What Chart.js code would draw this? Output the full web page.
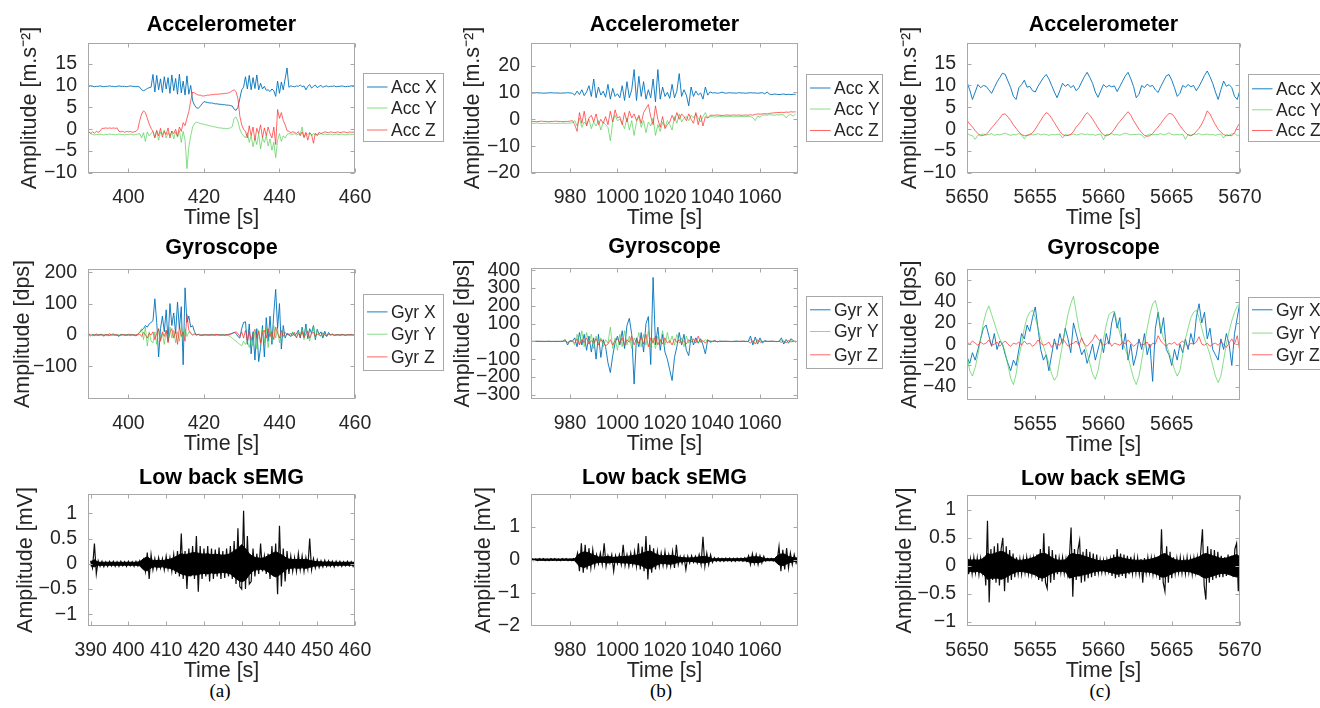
<!DOCTYPE html>
<html>
<head>
<meta charset="utf-8">
<script src="https://cdn.jsdelivr.net/npm/chart.js@4.4.1/dist/chart.umd.min.js"></script>
<style>
  html, body { margin: 0; padding: 0; background: #fff; }
  body { position: relative; width: 1320px; height: 708px; overflow: hidden; }
  .sub { position: absolute; transform: translate(-50%, -50%); font: 19px "Liberation Serif", "DejaVu Serif", serif; color: #000; }
</style>
</head>
<body>
<div class="sub" style="left:220px;top:691px">(a)</div>
<div class="sub" style="left:661px;top:691px">(b)</div>
<div class="sub" style="left:1100px;top:691px">(c)</div>
<script>
// ---- time bases (start, step) ----
const A_T0 = 389.5, A_DT = 0.5;
const B_T0 = 964, B_DT = 1;
const C_T0 = 5650, C_DT = 0.2;
const EA_T0 = 390, EA_DT = 0.5;
const EB_T0 = 964, EB_DT = 0.8;
const EC_T0 = 5650, EC_DT = 0.125;
// sEMG dense core (envelope) time bases
const KA_T0 = 390, KA_DT = 1;
const KB_T0 = 964, KB_DT = 2;
const KC_T0 = 5650, KC_DT = 0.25;

// ---- (a) accelerometer ----
const accA_x = [9.8,9.9,9.8,9.7,9.8,9.8,9.9,9.8,9.7,9.8,9.8,9.9,9.8,9.8,9.7,9.8,9.9,9.8,9.8,9.8,9.7,9.8,9.9,9.8,9.8,9.7,9.8,
  9.6,9.0,8.8,9.0,9.3,9.5,9.6,
  12.5,8.5,12.3,9.0,11.5,8.4,12.0,9.2,11.8,8.2,12.4,8.8,11.6,8.0,12.6,8.3,11.0,7.8,12.2,8.0,10.0,6.5,
  5.5,4.9,4.8,5.2,5.8,
  6.3,6.2,6.1,6.0,6.0,5.9,5.8,5.8,5.7,5.7,5.6,5.6,5.5,5.5,5.4,5.3,
  4.6,4.3,5.0,7.0,9.0,9.6,
  12.0,9.2,12.3,9.0,11.8,9.3,12.4,9.0,10.5,9.2,9.8,8.9,9.0,8.6,9.2,8.8,7.5,11.0,8.2,10.8,9.0,11.5,
  14.0,
  9.6,9.9,9.8,9.7,9.9,9.8,10.1,9.7,9.9,9.0,9.8,10.2,9.4,9.8,10.1,9.5,9.8,10.0,9.6,9.8,
  9.9,9.7,9.8,9.8,9.9,9.7,9.8,9.8,9.9,9.8,9.7,9.8,9.8,9.9,9.8,9.8];
const accA_y = [-0.5,-1.0,-1.2,-1.3,-1.2,-1.2,-1.1,-1.2,-1.3,-1.2,-1.2,-1.1,-1.2,-1.2,-1.3,-1.2,-1.1,-1.2,-1.2,-1.3,-1.2,-1.2,-1.1,-1.2,-1.3,-1.2,-1.1,
  -1.0,-2.0,-0.8,-2.8,-0.6,-1.5,-0.9,
  -0.5,-1.8,-0.3,-2.5,-0.6,-1.2,-0.2,-2.0,-0.8,-1.5,-0.4,-2.2,-0.6,-1.8,-0.3,-3.0,-0.5,-2.5,-9.0,-4.0,-1.5,0.5,
  1.3,1.6,1.5,1.3,1.2,
  1.1,1.0,0.9,0.8,0.7,0.6,0.5,0.4,0.3,0.3,0.2,0.2,0.1,0.2,0.3,0.6,
  2.5,2.8,1.8,0.0,-1.0,-1.5,
  -2.0,-0.8,-3.0,-1.5,-4.0,-2.0,-3.5,-1.0,-4.5,-2.0,-3.0,-1.5,-3.8,-2.2,-4.8,-3.0,-6.5,-2.5,-1.0,-2.8,-1.5,-2.0,
  -1.2,
  -1.0,-1.1,-1.2,-1.0,-1.3,-1.1,-1.2,0.5,-2.0,-1.0,-1.2,-0.8,-1.5,-1.0,-1.3,-1.1,-1.2,-1.0,-1.2,-1.1,
  -1.2,-1.2,-1.1,-1.3,-1.2,-1.1,-1.2,-1.2,-1.1,-1.2,-1.3,-1.2,-1.1,-1.2,-1.2,-1.1];
const accA_z = [-0.5,-1.0,-0.6,-0.9,-0.5,-0.7,-0.4,0.2,0.2,0.3,0.2,0.3,0.2,0.3,0.2,0.3,-0.5,-0.6,-0.5,-0.7,-0.5,-0.6,-0.5,-0.7,-0.6,-0.5,0.0,
  2.0,3.5,4.2,3.8,2.5,1.2,0.2,
  -0.5,-2.0,-0.3,-1.5,0.2,-1.8,-0.5,-1.2,0.3,-2.0,-0.4,-1.0,0.0,-1.6,0.5,-0.5,1.5,0.8,2.5,4.0,6.5,8.5,
  8.3,8.0,7.8,7.8,7.6,
  7.6,7.7,7.8,7.8,7.9,7.9,8.0,8.0,8.0,8.1,8.1,8.2,8.2,8.3,8.5,8.8,
  9.0,8.6,7.0,3.0,1.0,0.0,
  -0.5,-2.0,0.8,-1.5,0.5,-2.5,0.2,-1.0,1.0,-2.0,0.3,-1.5,0.5,-1.0,-2.0,0.5,-3.5,4.5,2.5,3.8,2.0,1.0,
  -0.3,
  -0.5,-0.8,-0.6,-0.7,-1.0,-0.5,-1.5,-0.6,-1.8,-0.7,-2.5,-0.8,-1.2,-3.2,-0.9,-1.5,-0.7,-1.0,-0.8,-0.6,
  -0.7,-0.8,-0.6,-0.7,-0.8,-0.7,-0.6,-0.8,-0.7,-0.6,-0.7,-0.8,-0.6,-0.7,-0.7,-0.6];

// ---- (a) gyroscope ----
const gyrA_x = [2,-3,1,-2,3,-1,0,2,-4,1,0,-2,1,3,-1,0,-5,2,1,-1,0,2,-2,1,0,-3,2,
  8,15,20,30,25,35,40,
  45,115,40,-70,20,60,10,80,-20,100,30,70,5,105,20,90,-95,150,40,60,25,30,
  10,0,2,-1,0,
  0,1,-1,0,2,0,-1,1,0,0,1,-1,0,2,3,5,
  8,5,-5,-10,20,40,
  42,-30,35,-60,10,-80,20,-85,-40,30,-70,55,-20,60,-30,70,145,20,100,-45,30,-10,
  5,
  0,-5,8,-2,3,15,-10,25,-8,35,-12,20,5,30,-15,18,2,10,-10,12,
  -5,8,0,3,-2,1,0,-1,2,0,-1,1,0,2,-1,0];
const gyrA_y = [5,-3,2,0,-2,1,0,-1,2,0,-3,1,0,2,-1,0,1,-2,0,1,0,-1,2,0,1,-2,3,
  10,20,-15,25,-35,10,-20,
  -25,10,-30,20,-15,5,-30,15,-20,25,-10,15,-25,10,-20,30,-15,20,-5,10,5,0,
  5,0,2,0,-1,
  0,1,0,-1,0,1,0,0,-1,0,1,0,0,-2,-5,-10,
  -15,-20,-25,-30,-35,-20,
  -30,-20,-40,-15,-35,10,-45,15,-30,20,-25,25,-40,15,-20,30,-10,20,-25,5,10,-5,
  0,
  5,-5,10,0,-8,12,-3,20,-15,25,5,-20,10,30,-10,15,0,-5,8,0,
  -3,2,0,1,-1,0,2,0,-1,1,0,0,-1,1,0,5];
const gyrA_z = [3,0,-2,1,0,-1,2,0,-2,1,0,4,0,-1,1,0,-2,0,1,0,-1,0,2,0,-1,1,0,
  3,-5,8,0,-10,5,0,
  10,-15,5,20,-20,10,-5,15,-25,8,20,-10,15,-30,25,-5,10,-20,65,15,5,0,
  2,0,1,0,-1,
  0,0,1,0,-1,0,2,1,0,0,-1,0,1,0,2,5,
  8,10,5,-5,10,-10,
  15,-20,10,-15,5,18,-10,12,-25,8,15,-10,20,-5,10,-15,25,5,-10,15,-5,8,
  2,
  0,5,-3,8,-10,5,-5,10,-8,3,12,-10,5,8,-5,3,0,-2,5,0,
  -3,2,0,1,0,-1,1,0,0,1,-1,0,1,0,0,2];

// ---- (b) accelerometer ----
const accB_x = [9.8,9.8,9.9,9.8,9.8,9.7,9.8,9.8,9.9,9.8,9.8,9.8,9.7,9.8,9.8,9.9,9.8,9.7,
  9.0,10.5,9.2,11.0,8.8,10.2,12.5,8.5,15.0,8.0,12.0,9.0,10.5,8.2,13.0,7.5,11.5,8.5,9.5,8.0,
  12.5,7.0,14.0,8.0,11.0,18.5,7.0,16.0,8.5,14.0,7.5,11.0,8.0,15.0,6.5,18.5,7.5,12.0,8.5,10.0,
  7.8,13.0,8.0,10.5,17.0,8.5,11.0,9.0,5.0,12.0,8.5,10.5,9.0,9.8,7.5,12.0,9.0,10.2,
  9.8,9.9,9.7,9.8,10.1,9.8,9.7,9.9,9.8,9.8,9.7,9.9,9.8,9.8,9.7,9.8,9.9,9.8,
  9.8,9.7,9.8,9.9,9.5,10.1,9.4,9.2,9.4,9.3,9.2,9.3,9.4,9.2,9.3,9.2,9.3,9.3];
const accB_y = [-1.5,-1.5,-1.4,-1.5,-1.6,-1.5,-1.5,-1.4,-1.5,-1.5,-1.6,-1.5,-1.5,-1.4,-1.5,-1.5,-1.4,-1.3,
  -0.5,-2.5,0.5,-3.0,-1.0,-2.0,0.0,-3.5,-1.0,-2.5,-0.5,-4.0,-1.0,-2.0,-3.0,-8.0,-1.0,1.5,-0.5,0.0,
  -1.5,-3.5,0.5,-4.0,-0.5,-6.0,-1.0,1.0,-3.0,-0.5,-5.0,-1.0,-2.5,0.5,-6.0,-2.0,-4.5,-1.0,-3.0,-0.5,
  -2.0,-4.0,1.0,-1.5,2.0,-1.0,0.5,1.0,-0.5,1.5,0.5,2.0,0.5,-1.0,1.0,2.5,0.5,1.0,
  1.0,0.8,1.0,1.1,0.9,1.0,1.0,1.1,1.0,0.9,1.0,1.0,1.1,1.0,1.0,1.1,1.0,0.6,
  -0.5,1.2,0.8,1.5,1.6,1.5,1.7,1.6,1.5,1.7,1.6,1.8,1.6,0.5,1.5,1.8,1.2,2.0];
const accB_z = [-0.8,-0.8,-0.9,-0.8,-0.7,-0.8,-0.8,-0.9,-0.8,-0.8,-0.7,-0.8,-0.8,-0.9,-0.8,-0.8,-0.7,-0.5,
  -2.0,-4.5,2.5,-1.5,3.0,-2.5,0.5,1.5,-1.0,2.0,-2.0,0.0,-1.5,1.0,-2.0,3.0,-1.0,3.5,0.5,1.0,
  -2.0,2.5,-1.0,3.0,0.5,2.0,-0.5,1.5,-1.5,2.5,4.0,5.5,1.0,-2.0,5.0,0.0,-3.0,1.0,-3.5,-2.0,
  -1.0,1.5,-0.5,2.5,0.0,2.0,1.0,-0.5,2.0,0.0,-1.5,2.5,-2.0,1.5,-2.5,1.0,0.5,1.5,
  1.5,1.5,1.6,1.5,1.4,1.5,1.6,1.5,1.5,1.6,1.5,1.6,1.5,1.5,1.6,1.5,1.7,1.5,
  1.8,2.0,1.9,2.0,2.1,2.0,2.2,2.3,2.4,2.5,2.5,2.6,2.5,2.7,2.6,2.8,2.7,2.8];

// ---- (b) gyroscope ----
const gyrB_x = [0,0,1,0,-1,0,0,1,0,0,-1,0,0,1,10,-20,5,0,
  20,-30,50,-20,40,-50,30,-60,20,-100,40,-90,10,-30,-120,-175,-80,-10,30,-20,
  60,-40,90,130,40,-240,20,-30,50,-60,100,140,-130,360,-20,80,-50,40,-60,-100,
  -160,-220,-90,-30,50,-20,40,-50,-80,30,-20,20,-10,15,-20,-70,10,-5,
  0,5,-3,2,0,1,0,0,-1,0,2,0,0,1,0,-1,30,-20,
  25,-15,20,-10,5,0,0,1,0,-1,0,20,-15,10,-10,15,5,-5];
const gyrB_y = [0,0,0,1,0,0,-1,0,0,0,1,0,0,0,5,-10,0,5,
  -20,40,-15,60,-30,50,-10,40,-40,30,-20,20,-30,10,-10,80,-40,20,-50,40,
  -30,60,-20,30,-40,20,-10,50,-30,40,-20,60,-30,20,-40,30,-10,60,-20,50,
  -10,30,-20,40,-10,20,-30,30,-10,20,-5,10,-10,5,-5,10,0,5,
  0,2,-2,0,1,0,0,-1,0,1,0,0,0,1,0,-1,10,-5,
  15,-10,5,0,0,0,1,0,0,-1,0,5,-5,10,-5,5,0,2];
const gyrB_z = [0,0,0,0,1,0,0,0,-1,0,0,0,0,0,2,-5,0,3,
  -10,15,-20,10,-5,20,-15,5,-10,15,-20,10,-5,-25,-15,10,-20,5,15,-10,
  20,-25,10,-5,30,-20,15,-10,25,-15,40,-30,20,-10,30,-20,10,-15,20,-10,
  5,-20,15,-5,10,-10,5,-15,10,-5,15,-10,30,-5,5,-10,5,0,
  0,1,0,-1,0,0,1,0,0,-1,0,0,1,0,0,0,-10,5,
  -15,10,-5,0,0,0,0,1,0,0,0,-5,3,-8,5,-3,0,1];

// ---- (c) accelerometer ----
const accC_x = [10.8,9.0,6.8,8.5,10.2,9.5,10.0,9.8,9.0,8.2,
  9.5,10.8,11.8,12.8,12.5,11.0,9.5,7.5,6.8,9.5,
  10.2,11.2,9.6,9.8,8.8,8.5,9.8,10.8,11.8,12.5,
  11.5,10.0,8.5,7.2,8.8,10.5,9.8,10.3,9.5,10.0,
  8.8,9.5,10.8,12.0,13.0,11.8,10.5,8.5,7.3,8.8,
  10.2,9.6,10.0,9.7,9.9,8.6,9.8,11.0,12.2,13.0,
  11.5,9.8,7.2,8.0,10.0,9.5,10.3,9.8,10.0,9.0,
  8.4,9.8,11.0,12.2,12.5,11.2,9.5,7.5,8.2,10.0,
  9.6,10.2,9.7,10.0,8.8,9.8,11.0,12.3,13.3,12.0,
  10.5,8.5,6.8,9.0,11.0,9.8,10.2,9.5,7.5,6.8,
  9.0];
const accC_y = [-1.0,-1.3,-1.5,-2.3,-1.4,-1.2,-1.1,-1.3,-1.2,-1.0,
  -1.4,-1.2,-1.3,-1.1,-0.9,-1.2,-1.4,-1.2,-1.3,-1.0,
  -1.3,-2.2,-1.4,-1.1,-1.3,-1.2,-1.0,-1.3,-1.1,-1.2,
  -1.4,-1.2,-1.3,-1.2,-1.1,-2.0,-1.2,-1.4,-1.2,-1.1,
  -1.3,-1.2,-1.0,-1.2,-1.1,-1.3,-1.2,-1.4,-1.2,-1.1,
  -2.4,-1.2,-1.2,-1.0,-1.3,-1.2,-1.4,-1.1,-0.9,-1.1,
  -1.3,-1.2,-1.2,-1.1,-1.3,-2.0,-1.4,-1.1,-1.3,-1.2,
  -1.2,-1.0,-1.3,-1.1,-0.8,-1.2,-1.3,-1.2,-1.3,-1.1,
  -2.3,-1.2,-1.4,-1.1,-1.2,-1.0,-1.3,-1.2,-1.1,-1.3,
  -1.2,-1.4,-1.2,-1.1,-2.0,-1.2,-1.4,-1.1,-0.9,-1.5,
  -1.2];
const accC_z = [2.0,1.2,0.5,-0.3,-1.0,-1.5,-1.4,-1.2,-0.5,0.3,
  1.0,1.8,2.5,3.4,3.5,2.8,2.0,1.0,0.2,-0.6,
  -1.2,-1.5,-1.4,-1.3,-0.8,0.0,1.0,2.0,3.0,3.8,
  3.4,2.5,1.5,0.5,-0.5,-1.2,-1.5,-1.4,-1.2,-0.5,
  0.5,1.2,2.0,3.0,3.8,3.2,2.3,1.3,0.3,-0.6,
  -1.3,-1.5,-1.3,-0.8,0.0,1.0,1.8,2.5,3.3,4.0,
  3.2,2.0,1.0,0.0,-0.8,-1.4,-1.6,-1.5,-1.0,-0.2,
  0.5,1.3,2.2,3.0,3.6,3.5,2.8,1.8,0.8,0.0,
  -0.8,-1.3,-1.5,-1.2,-0.5,0.2,1.2,2.5,4.2,3.5,
  2.2,1.0,0.0,-0.7,-1.2,-1.5,-1.4,-1.5,-0.8,0.5,
  1.5];

// ---- (c) gyroscope ----
const gyrC_x = [-12,-18,-8,-15,-5,5,15,18,8,-2,
  10,-5,3,0,-10,-18,-25,-15,-20,-5,
  10,5,18,12,25,35,15,-5,-15,-10,
  -25,-10,5,-5,10,0,15,5,-8,20,
  10,0,-10,-5,-18,-10,0,-15,-5,5,
  -8,10,0,20,30,15,25,-5,10,-15,
  0,-20,-10,5,-5,10,-10,0,-35,15,
  30,10,25,-5,-10,-20,-5,-15,0,-8,
  5,-5,10,0,25,38,20,30,5,15,
  -5,-10,-15,5,-5,10,0,-20,10,25,
  40];
const gyrC_y = [-10,-25,-30,-22,-10,5,20,30,36,28,
  20,12,5,0,-8,-20,-32,-38,-28,-12,
  0,15,25,30,32,25,15,5,-2,-10,
  -18,-28,-34,-30,-15,0,15,28,38,45,
  30,15,5,0,-8,-18,-28,-33,-25,-10,
  5,18,28,30,31,20,10,2,-5,-12,
  -22,-32,-38,-30,-15,0,15,28,38,41,
  30,15,5,0,-8,-15,-24,-30,-25,-10,
  5,15,25,30,32,25,15,5,-2,-10,
  -20,-30,-36,-30,-15,0,12,22,30,36,
  38];
const gyrC_z = [2,0,3,1,-1,2,0,1,4,-1,
  0,2,-2,1,3,0,-2,1,0,2,
  -1,3,0,1,-2,0,4,1,-1,0,
  2,-3,1,0,-1,5,2,-2,0,1,
  3,-1,6,0,-2,1,4,9,5,2,
  -1,0,3,-2,1,0,-1,2,0,4,
  1,-2,0,3,-1,0,2,-3,1,0,
  8,3,0,-2,1,0,2,-1,1,3,
  0,-2,1,0,2,7,0,-1,1,-2,
  0,1,-1,2,0,-3,1,5,0,8,
  -8];

// ---- low back sEMG: raw trace ----
const emgA = [0.06,-0.08,0.40,-0.20,0.06,-0.05,0.05,-0.06,0.04,-0.05,
  0.05,-0.04,0.05,-0.05,0.04,-0.05,0.05,-0.04,0.04,-0.05,
  0.05,-0.04,0.04,-0.05,0.05,-0.04,0.06,-0.05,0.08,
  -0.15,0.22,-0.30,0.18,
  -0.12,0.10,-0.10,0.12,-0.08,0.10,-0.12,0.15,-0.10,0.12,-0.15,0.18,
  -0.20,0.25,-0.25,0.60,-0.30,0.25,-0.50,0.30,-0.25,0.35,-0.30,0.55,
  -0.55,0.35,-0.30,0.30,-0.25,0.35,-0.35,0.30,-0.30,0.28,-0.25,0.32,-0.30,0.25,-0.28,0.30,-0.25,0.35,
  -0.30,0.45,-0.40,0.70,-0.45,-0.50,1.05,-0.50,0.55,-0.40,
  -0.35,0.30,-0.25,0.20,-0.20,0.40,-0.15,0.15,-0.20,0.20,
  -0.30,0.35,-0.25,0.40,-0.60,0.75,-0.45,0.30,-0.35,0.25,
  -0.20,0.15,-0.15,0.12,-0.15,0.20,-0.12,0.15,-0.15,0.12,-0.10,0.50,-0.12,0.10,
  -0.08,0.08,-0.07,0.06,-0.06,0.07,-0.05,0.06,-0.05,0.05,-0.06,0.05,-0.04,0.05,-0.05,0.04,-0.04,0.05,-0.04,0.04,-0.05,0.04];
const emgB = [0.03,-0.03,0.02,-0.03,0.03,-0.02,0.03,-0.03,0.02,-0.03,0.03,-0.02,
  0.03,-0.03,0.02,-0.03,0.03,-0.02,0.03,-0.03,0.02,-0.03,0.03,-0.02,
  0.20,-0.35,0.50,-0.40,0.45,-0.30,0.35,-0.25,0.30,-0.20,
  0.15,-0.12,0.20,-0.15,0.50,-0.20,0.12,-0.10,0.15,-0.35,0.12,
  -0.12,0.15,-0.15,0.45,-0.18,0.15,-0.20,0.20,-0.15,0.25,-0.20,0.50,
  -0.30,0.40,-0.35,0.72,-0.60,0.45,-0.40,0.35,-0.30,0.25,
  -0.20,0.20,-0.18,0.25,-0.20,0.15,-0.20,0.25,-0.25,0.45,
  -0.15,0.10,-0.12,0.10,-0.30,0.10,-0.10,0.12,-0.08,0.10,
  -0.10,0.15,-0.15,0.70,-0.20,0.20,-0.15,0.15,
  -0.08,0.06,-0.05,0.05,-0.05,0.04,-0.05,0.05,-0.04,0.05,-0.05,0.04,-0.05,0.05,-0.04,0.05,-0.05,0.06,-0.05,
  0.12,-0.15,0.18,-0.12,0.15,-0.15,0.12,-0.10,0.10,
  -0.04,0.04,-0.03,0.04,-0.04,0.03,-0.04,
  0.40,-0.35,0.30,-0.30,0.35,-0.25,
  0.20,-0.15,0.15,-0.10,0.08];
const emgC = [0.25,-0.15,0.12,-0.14,0.15,-0.12,0.14,-0.15,0.13,-0.12,0.16,
  -0.35,0.80,-0.65,0.30,-0.25,0.35,-0.30,0.40,-0.35,0.30,0.50,-0.45,0.35,-0.30,0.28,-0.25,0.22,-0.20,
  0.15,-0.14,0.12,-0.15,0.13,-0.12,0.15,-0.14,0.12,-0.15,0.14,-0.13,
  0.20,-0.25,0.30,-0.28,0.58,-0.30,-0.40,0.35,-0.30,0.28,-0.25,0.20,
  -0.15,0.14,-0.12,0.15,-0.13,0.12,-0.15,0.14,
  0.68,-0.55,
  0.30,-0.25,0.28,0.45,-0.30,0.25,-0.28,0.30,-0.22,0.25,-0.20,0.22,-0.18,0.20,
  -0.12,0.11,-0.12,0.10,-0.12,0.11,-0.10,0.12,
  -0.18,0.20,-0.22,0.30,-0.20,0.22,-0.18,0.20,-0.22,0.18,-0.15,0.16,
  -0.14,0.15,-0.13,0.14,-0.15,0.12,-0.30,0.14,-0.13,0.15,-0.12,0.14,-0.15,0.13,-0.14,0.15,
  -0.25,0.65,-0.30,-0.45,0.35,-0.30,0.25,-0.22,
  0.15,-0.14,0.13,-0.12,0.15,-0.13,0.12,-0.14,0.15,-0.12,0.13,-0.15,0.14,-0.12,0.15,-0.14,
  0.25,0.65,-0.35,-0.60,0.35,-0.30,0.30,-0.25,0.28,-0.22,0.25,-0.20,
  0.18,-0.20,0.15,-0.18,0.20,-0.15,0.18,-0.20,
  0.30,0.40,-0.45,0.25];

// ---- low back sEMG: dense core band (upper / lower edge) ----
const coreA_hi = [0.04,0.08,0.03,0.03,0.03,0.03,0.03,0.03,0.03,0.03,
  0.03,0.03,0.03,0.04,0.10,0.14,0.08,0.06,0.07,0.06,
  0.08,0.09,0.12,0.16,0.20,0.18,0.20,0.22,0.22,0.20,
  0.19,0.20,0.18,0.19,0.18,0.17,0.18,0.20,0.26,0.30,
  0.38,0.30,0.20,0.14,0.12,0.11,0.12,0.16,0.20,0.24,
  0.20,0.16,0.10,0.09,0.08,0.09,0.08,0.09,0.07,0.05,
  0.04,0.04,0.03,0.04,0.03,0.03,0.03,0.03,0.03,0.03,
  0.03];
const coreA_lo = [-0.04,-0.06,-0.03,-0.03,-0.03,-0.03,-0.03,-0.03,-0.03,-0.03,
  -0.03,-0.03,-0.03,-0.04,-0.12,-0.14,-0.08,-0.06,-0.07,-0.06,
  -0.08,-0.09,-0.12,-0.16,-0.20,-0.22,-0.24,-0.22,-0.22,-0.20,
  -0.19,-0.20,-0.18,-0.19,-0.18,-0.17,-0.18,-0.20,-0.26,-0.32,
  -0.36,-0.32,-0.22,-0.14,-0.12,-0.11,-0.12,-0.16,-0.22,-0.26,
  -0.22,-0.16,-0.10,-0.09,-0.08,-0.09,-0.08,-0.09,-0.07,-0.05,
  -0.04,-0.04,-0.03,-0.04,-0.03,-0.03,-0.03,-0.03,-0.03,-0.03,
  -0.03];
const coreB_hi = [0.02,0.02,0.02,0.02,0.02,0.02,0.02,0.02,0.02,0.03,
  0.18,0.24,0.20,0.14,0.08,0.08,0.10,0.07,0.08,0.10,
  0.10,0.12,0.14,0.18,0.24,0.26,0.18,0.12,0.12,0.13,
  0.12,0.07,0.06,0.05,0.06,0.08,0.10,0.08,0.03,0.03,
  0.03,0.03,0.03,0.03,0.03,0.04,0.08,0.09,0.08,0.03,
  0.03,0.03,0.16,0.18,0.10,0.06,0.05];
const coreB_lo = [-0.02,-0.02,-0.02,-0.02,-0.02,-0.02,-0.02,-0.02,-0.02,-0.03,
  -0.20,-0.24,-0.18,-0.12,-0.08,-0.08,-0.10,-0.08,-0.08,-0.10,
  -0.10,-0.12,-0.14,-0.18,-0.26,-0.28,-0.18,-0.12,-0.12,-0.14,
  -0.12,-0.07,-0.06,-0.05,-0.06,-0.08,-0.10,-0.08,-0.03,-0.03,
  -0.03,-0.03,-0.03,-0.03,-0.03,-0.04,-0.08,-0.09,-0.08,-0.03,
  -0.03,-0.03,-0.16,-0.18,-0.10,-0.06,-0.05];
const coreC_hi = [0.12,0.10,0.11,0.10,0.11,0.14,0.22,0.20,0.22,0.24,
  0.26,0.24,0.20,0.16,0.12,0.10,0.10,0.11,0.12,0.14,
  0.16,0.20,0.22,0.22,0.18,0.14,0.11,0.10,0.10,0.11,
  0.20,0.22,0.20,0.20,0.18,0.16,0.14,0.12,0.10,0.09,
  0.09,0.10,0.12,0.14,0.16,0.15,0.13,0.12,0.11,0.10,
  0.10,0.10,0.10,0.11,0.12,0.14,0.16,0.20,0.22,0.18,
  0.14,0.11,0.10,0.09,0.10,0.10,0.12,0.14,0.16,0.20,
  0.22,0.20,0.18,0.16,0.14,0.13,0.14,0.16,0.18,0.20,
  0.16];
const coreC_lo = [-0.12,-0.10,-0.11,-0.10,-0.12,-0.16,-0.24,-0.22,-0.22,-0.22,
  -0.24,-0.22,-0.18,-0.15,-0.12,-0.10,-0.10,-0.11,-0.12,-0.14,
  -0.16,-0.20,-0.22,-0.20,-0.16,-0.13,-0.11,-0.10,-0.10,-0.11,
  -0.22,-0.20,-0.18,-0.18,-0.16,-0.15,-0.13,-0.11,-0.10,-0.09,
  -0.09,-0.10,-0.12,-0.13,-0.15,-0.14,-0.13,-0.12,-0.11,-0.10,
  -0.10,-0.10,-0.11,-0.11,-0.12,-0.14,-0.16,-0.20,-0.20,-0.17,
  -0.14,-0.11,-0.10,-0.09,-0.10,-0.10,-0.12,-0.14,-0.16,-0.20,
  -0.22,-0.20,-0.18,-0.16,-0.14,-0.13,-0.14,-0.16,-0.18,-0.20,
  -0.16];

// ---- tick labels ----
const xTicksA = [400, 420, 440, 460];
const xTicksA3 = [390, 400, 410, 420, 430, 440, 450, 460];
const xTicksB = [980, 1000, 1020, 1040, 1060];
const xTicksC = [5650, 5655, 5660, 5665, 5670];
const xTicksC2 = [5655, 5660, 5665];
const yTicksAcc = [-10, -5, 0, 5, 10, 15];
const yTicksAccB = [-20, -10, 0, 10, 20];
const yTicksGyrA = [-100, 0, 100, 200];
const yTicksGyrB = [-300, -200, -100, 0, 100, 200, 300, 400];
const yTicksGyrC = [-40, -20, 0, 20, 40, 60];
const yTicksEmg = [-1, -0.5, 0, 0.5, 1];
const yTicksEmgB = [-2, -1, 0, 1];

const SANS = '"Liberation Sans", Arial, Helvetica, sans-serif';
const BLUE = 'rgba(0,114,189,0.9)';
const GREEN = 'rgba(70,205,70,0.65)';
const RED = 'rgba(255,45,45,0.72)';
const AXIS = '#a8a8a8';

function series(t0, dt, vals) {
  return vals.map((v, i) => ({ x: t0 + i * dt, y: v }));
}
function fmt(v) {
  const s = String(+Number(v).toFixed(2));
  return v < 0 ? '\u2212' + s.slice(1) : s;
}
function three(names, t0, dt, xs, ys, zs) {
  return [
    { label: names[0], data: series(t0, dt, xs), borderColor: BLUE, order: 3 },
    { label: names[1], data: series(t0, dt, ys), borderColor: GREEN, order: 2 },
    { label: names[2], data: series(t0, dt, zs), borderColor: RED, order: 1 }
  ];
}

// box with inward ticks, like the original figure
const axesBox = {
  id: 'axesBox',
  afterDatasetsDraw(chart) {
    const { ctx, chartArea: a, scales } = chart;
    const L = Math.round(a.left) + 0.5, R = Math.round(a.right) - 0.5;
    const T = Math.round(a.top) + 0.5, B = Math.round(a.bottom) - 0.5;
    ctx.save();
    ctx.strokeStyle = AXIS;
    ctx.lineWidth = 1;
    ctx.strokeRect(L, T, R - L, B - T);
    ctx.beginPath();
    scales.x.ticks.forEach(t => {
      const x = Math.round(scales.x.getPixelForValue(t.value)) + 0.5;
      ctx.moveTo(x, B); ctx.lineTo(x, B - 4);
      ctx.moveTo(x, T); ctx.lineTo(x, T + 4);
    });
    scales.y.ticks.forEach(t => {
      const y = Math.round(scales.y.getPixelForValue(t.value)) + 0.5;
      ctx.moveTo(L, y); ctx.lineTo(L + 4, y);
      ctx.moveTo(R, y); ctx.lineTo(R - 4, y);
    });
    ctx.stroke();
    ctx.restore();
  }
};

// boxed legend to the right of the axes
const legendBox = {
  id: 'legendBox',
  afterDraw(chart, args, o) {
    if (!o || !o.w) return;
    const { ctx, chartArea: a } = chart;
    const x0 = Math.round(a.right + o.dx) + 0.5, y0 = Math.round(a.top + o.dy) + 0.5;
    const rows = [o.r0, o.r1, o.r2];
    ctx.save();
    ctx.fillStyle = '#fff';
    ctx.fillRect(x0, y0, o.w, o.h);
    ctx.strokeStyle = AXIS;
    ctx.lineWidth = 1;
    ctx.strokeRect(x0, y0, o.w, o.h);
    ctx.font = '17.5px ' + SANS;
    ctx.textBaseline = 'middle';
    chart.data.datasets.forEach((ds, i) => {
      const y = y0 + rows[i];
      ctx.strokeStyle = ds.borderColor;
      ctx.beginPath();
      ctx.moveTo(x0 + 3.5, y); ctx.lineTo(x0 + 24, y);
      ctx.stroke();
      ctx.fillStyle = '#262626';
      ctx.fillText(ds.label, x0 + 27.5, y + 1);
    });
    ctx.restore();
  }
};

function makePanel(p) {
  const W = p.r - p.l + 88 + 95, H = p.b - p.t + 43 + 62;
  const cv = document.createElement('canvas');
  cv.width = W; cv.height = H;
  cv.style.cssText = 'position:absolute;left:' + (p.l - 88) + 'px;top:' + (p.t - 43) + 'px;width:' + W + 'px;height:' + H + 'px';
  document.body.appendChild(cv);
  new Chart(cv, {
    type: 'line',
    data: { datasets: p.sets },
    options: {
      responsive: false,
      animation: false,
      events: [],
      layout: { padding: { left: 0, top: 0, right: 95, bottom: 0 } },
      elements: { point: { radius: 0 }, line: { borderWidth: 1, tension: 0 } },
      scales: {
        x: {
          type: 'linear', min: p.xr[0], max: p.xr[1],
          grid: { display: false, drawTicks: false }, border: { display: false },
          afterBuildTicks: s => { s.ticks = p.xt.map(v => ({ value: v })); },
          afterFit: s => { s.height = 62; },
          ticks: { autoSkip: false, maxRotation: 0, padding: 12.5, color: '#262626', font: { family: SANS, size: 19.5 }, callback: fmt },
          title: { display: true, text: 'Time [s]', color: '#262626', font: { family: SANS, size: 21.5 }, padding: { top: 0, bottom: 3.6 } }
        },
        y: {
          type: 'linear', min: p.yr[0], max: p.yr[1],
          grid: { display: false, drawTicks: false }, border: { display: false },
          afterBuildTicks: s => { s.ticks = p.yt.map(v => ({ value: v })); },
          afterFit: s => { s.width = 88; },
          ticks: { autoSkip: false, padding: 11, color: '#262626', font: { family: SANS, size: 19.5 }, callback: fmt },
          title: { display: true, text: p.ylab, color: '#262626', font: { family: SANS, size: 21.5 }, padding: { top: 75.1 - p.yoff, bottom: 0 } }
        }
      },
      plugins: {
        legend: { display: false },
        tooltip: { enabled: false },
        title: { display: true, fullSize: false, text: p.title, color: '#000', font: { family: SANS, size: 21.5, weight: 'bold' }, padding: { top: p.tp[0], bottom: p.tp[1] } },
        legendBox: p.legend || {}
      }
    },
    plugins: [axesBox, legendBox]
  });
}

const ACC = ['Acc X', 'Acc Y', 'Acc Z'];
const GYR = ['Gyr X', 'Gyr Y', 'Gyr Z'];
const ACC_LAB = 'Amplitude [m.s\u207B\u00B2]';
const GYR_LAB = 'Amplitude [dps]';
const EMG_LAB = 'Amplitude [mV]';
const ROW1 = [12.1, 5.1], ROW2 = [9.1, 8.1], ROW3 = [14.1, 3.1];

// row 1
makePanel({ l: 88, r: 355, t: 43, b: 173, xr: [389.3, 460], yr: [-10, 19.7], xt: xTicksA, yt: yTicksAcc,
  title: 'Accelerometer', ylab: ACC_LAB, yoff: 57.7, tp: ROW1, sets: three(ACC, A_T0, A_DT, accA_x, accA_y, accA_z),
  legend: { dx: 8, dy: 30, w: 80, h: 68, r0: 13.5, r1: 34.5, r2: 56.5 } });
makePanel({ l: 531, r: 798, t: 43, b: 173, xr: [963.6, 1076], yr: [-20, 28.4], xt: xTicksB, yt: yTicksAccB,
  title: 'Accelerometer', ylab: ACC_LAB, yoff: 58, tp: ROW1, sets: three(ACC, B_T0, B_DT, accB_x, accB_y, accB_z),
  legend: { dx: 8.4, dy: 31, w: 76, h: 67, r0: 13.5, r1: 34.5, r2: 56 } });
makePanel({ l: 967, r: 1240, t: 43, b: 173, xr: [5650, 5670], yr: [-10, 19.7], xt: xTicksC, yt: yTicksAcc,
  title: 'Accelerometer', ylab: ACC_LAB, yoff: 56.7, tp: ROW1, sets: three(ACC, C_T0, C_DT, accC_x, accC_y, accC_z),
  legend: { dx: 8.3, dy: 31, w: 80, h: 67, r0: 14.3, r1: 35.3, r2: 56 } });

// row 2
makePanel({ l: 88, r: 355, t: 269, b: 399, xr: [389.3, 460], yr: [-204, 210], xt: xTicksA, yt: yTicksGyrA,
  title: 'Gyroscope', ylab: GYR_LAB, yoff: 65, tp: ROW2, sets: three(GYR, A_T0, A_DT, gyrA_x, gyrA_y, gyrA_z),
  legend: { dx: 8, dy: 25, w: 80, h: 76, r0: 17.4, r1: 39.7, r2: 62.4 } });
makePanel({ l: 531, r: 798, t: 268, b: 399, xr: [963.6, 1076], yr: [-324, 413], xt: xTicksB, yt: yTicksGyrB,
  title: 'Gyroscope', ylab: GYR_LAB, yoff: 67.5, tp: ROW2, sets: three(GYR, B_T0, B_DT, gyrB_x, gyrB_y, gyrB_z),
  legend: { dx: 8.4, dy: 28.4, w: 76, h: 72, r0: 13.3, r1: 35, r2: 58.3 } });
makePanel({ l: 967, r: 1240, t: 269, b: 400, xr: [5650, 5670], yr: [-52.5, 70.7], xt: xTicksC2, yt: yTicksGyrC,
  title: 'Gyroscope', ylab: GYR_LAB, yoff: 57, tp: ROW2, sets: three(GYR, C_T0, C_DT, gyrC_x, gyrC_y, gyrC_z),
  legend: { dx: 7.7, dy: 28.4, w: 80, h: 72, r0: 12.3, r1: 35.6, r2: 57.3 } });

// row 3: dense core band filled between its edges, raw trace on top
function emgSets(t0, dt, vals, k0, kdt, hi, lo) {
  return [
    { label: 'sEMG', data: series(t0, dt, vals), borderColor: 'rgba(0,0,0,0.95)', borderWidth: 1.2, order: 1 },
    { label: 'core', data: series(k0, kdt, hi), borderColor: '#000', borderWidth: 1, backgroundColor: '#000', fill: '+1', order: 2 },
    { label: 'core', data: series(k0, kdt, lo), borderColor: '#000', borderWidth: 1, order: 3 }
  ];
}
makePanel({ l: 88, r: 355, t: 494, b: 626, xr: [389.3, 460], yr: [-1.23, 1.38], xt: xTicksA3, yt: yTicksEmg,
  title: 'Low back sEMG', ylab: EMG_LAB, yoff: 61.8, tp: ROW3, sets: emgSets(EA_T0, EA_DT, emgA, KA_T0, KA_DT, coreA_hi, coreA_lo) });
makePanel({ l: 531, r: 798, t: 494, b: 626, xr: [963.6, 1076], yr: [-2.02, 2.0], xt: xTicksB, yt: yTicksEmgB,
  title: 'Low back sEMG', ylab: EMG_LAB, yoff: 46.5, tp: ROW3, sets: emgSets(EB_T0, EB_DT, emgB, KB_T0, KB_DT, coreB_hi, coreB_lo) });
makePanel({ l: 967, r: 1240, t: 495, b: 626, xr: [5650, 5670], yr: [-1.07, 1.26], xt: xTicksC, yt: yTicksEmg,
  title: 'Low back sEMG', ylab: EMG_LAB, yoff: 62, tp: ROW3, sets: emgSets(EC_T0, EC_DT, emgC, KC_T0, KC_DT, coreC_hi, coreC_lo) });
</script>
</body>
</html>
